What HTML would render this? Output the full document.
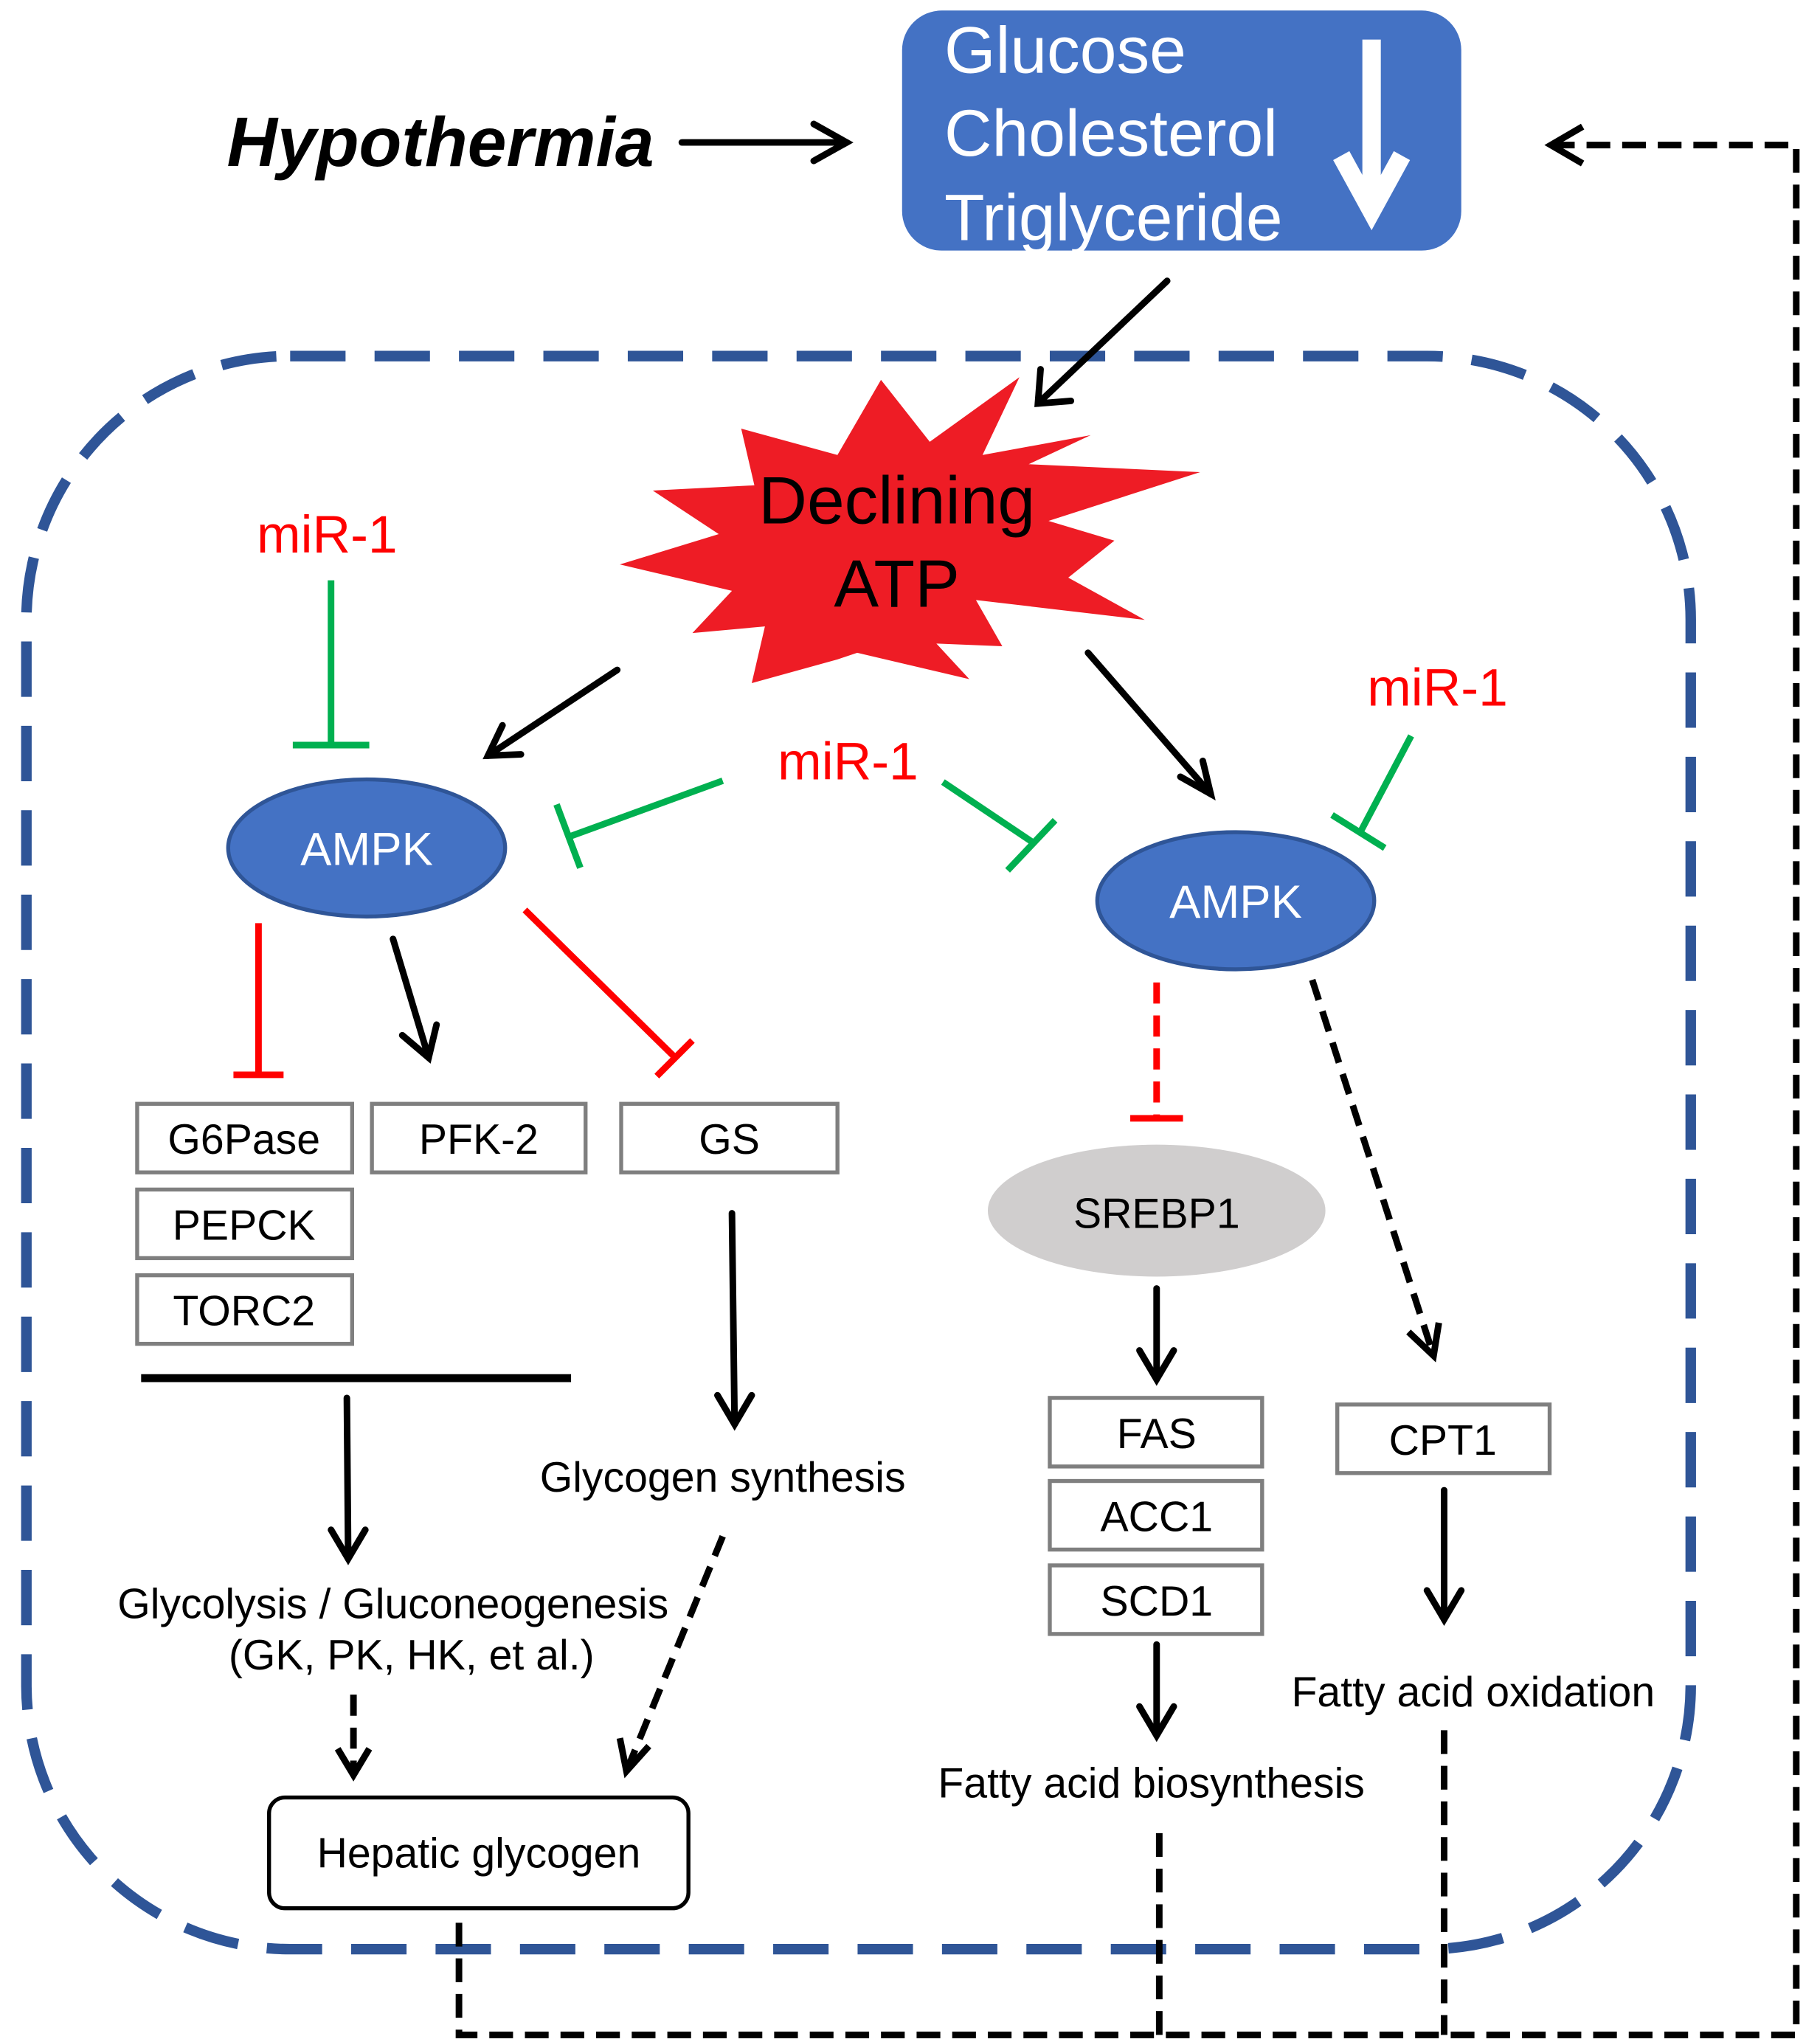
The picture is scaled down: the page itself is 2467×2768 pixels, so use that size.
<!DOCTYPE html>
<html><head><meta charset="utf-8"><style>
html,body{margin:0;padding:0;background:#fff;}
svg{display:block;}
text{font-family:"Liberation Sans",Arial,sans-serif;}
</style></head><body>
<svg width="2467" height="2768" viewBox="0 0 1380 1548.4" xmlns="http://www.w3.org/2000/svg">
<rect width="1380" height="1549" fill="#fff"/>
<rect x="20" y="270" width="1262" height="1208" rx="200" fill="none" stroke="#2F5597" stroke-width="8" stroke-dasharray="42 22"/>
<text x="172" y="126" font-size="53" font-weight="bold" font-style="italic">Hypothermia</text>
<g stroke="#000" stroke-width="5" fill="none" stroke-linecap="round">
<line x1="517" y1="108" x2="642" y2="108"/><polyline points="617,94 642,108 617,122"/>
<line x1="885" y1="213" x2="787" y2="306"/><polyline points="789,280 787,306 812,304"/>
<line x1="468" y1="508" x2="370" y2="573"/><polyline points="381,550 370,573 395,572"/>
<line x1="825" y1="495" x2="918" y2="602"/><polyline points="895,589 918,602 912,577"/>
<line x1="298" y1="712" x2="325" y2="802"/><polyline points="305,785 325,802 331,777"/>
<line x1="263" y1="1060" x2="264" y2="1182"/><polyline points="251,1160 264,1182 277,1160"/>
<line x1="555" y1="920" x2="557" y2="1080"/><polyline points="544,1058 557,1080 570,1058"/>
<line x1="877" y1="977" x2="877" y2="1046"/><polyline points="864,1024 877,1046 890,1024"/>
<line x1="877" y1="1247" x2="877" y2="1316"/><polyline points="864,1294 877,1316 890,1294"/>
<line x1="1095" y1="1130" x2="1095" y2="1228"/><polyline points="1082,1206 1095,1228 1108,1206"/>
</g>
<line x1="107" y1="1045" x2="433" y2="1045" stroke="#000" stroke-width="6"/>
<rect x="684" y="8" width="424" height="182" rx="30" fill="#4472C4"/>
<g fill="#fff" font-size="50"><text x="716" y="55">Glucose</text><text x="716" y="118">Cholesterol</text><text x="716" y="182">Triglyceride</text></g>
<line x1="1040" y1="30" x2="1040" y2="150" stroke="#fff" stroke-width="14"/>
<polyline points="1017,118 1040,160 1063,118" stroke="#fff" stroke-width="14" fill="none"/>
<polygon fill="#EE1C25" points="562,325 635,345 668,288 705,335 773,286 745,345 827,330 780,352 910,358 795,395 845,410 810,438 868,470 740,455 760,490 710,488 735,515 650,495 635,500 570,518 580,475 525,480 555,448 470,428 545,405 495,372 572,368"/>
<text x="680" y="397" font-size="51" text-anchor="middle">Declining</text>
<text x="680" y="460" font-size="51" text-anchor="middle">ATP</text>
<g fill="#FF0000" font-size="40" text-anchor="middle">
<text x="248" y="419">miR-1</text><text x="643" y="591">miR-1</text><text x="1090" y="535">miR-1</text></g>
<g stroke="#00B050" stroke-width="5" fill="none">
<line x1="251" y1="440" x2="251" y2="565"/><line x1="222" y1="565" x2="280" y2="565"/>
<line x1="548" y1="592" x2="430" y2="635"/><line x1="422" y1="610" x2="440" y2="658"/>
<line x1="715" y1="593" x2="785" y2="640"/><line x1="764" y1="660" x2="800" y2="622"/>
<line x1="1070" y1="558" x2="1032" y2="630"/><line x1="1010" y1="618" x2="1050" y2="643"/>
</g>
<ellipse cx="278" cy="643" rx="105" ry="52" fill="#4472C4" stroke="#2F5597" stroke-width="3"/>
<ellipse cx="937" cy="683" rx="105" ry="52" fill="#4472C4" stroke="#2F5597" stroke-width="3"/>
<text x="278" y="656" fill="#fff" font-size="35.5" text-anchor="middle">AMPK</text>
<text x="937" y="696" fill="#fff" font-size="35.5" text-anchor="middle">AMPK</text>
<g stroke="#FF0000" stroke-width="5" fill="none">
<line x1="196" y1="700" x2="196" y2="815"/><line x1="177" y1="815" x2="215" y2="815"/>
<line x1="398" y1="690" x2="512" y2="802"/><line x1="498" y1="816" x2="525" y2="789"/>
<line x1="877" y1="745" x2="877" y2="848" stroke-dasharray="16 9"/><line x1="857" y1="848" x2="897" y2="848"/>
</g>
<g fill="#fff" stroke="#7F7F7F" stroke-width="3">
<rect x="104" y="837" width="163" height="52"/><rect x="282" y="837" width="162" height="52"/><rect x="471" y="837" width="164" height="52"/>
<rect x="104" y="902" width="163" height="52"/><rect x="104" y="967" width="163" height="52"/>
<rect x="796" y="1060" width="161" height="52"/><rect x="796" y="1123" width="161" height="52"/><rect x="796" y="1187" width="161" height="52"/>
<rect x="1014" y="1065" width="161" height="52"/>
</g>
<ellipse cx="877" cy="918" rx="128" ry="50" fill="#D0CECE"/>
<rect x="204" y="1363" width="318" height="84" rx="12" fill="#fff" stroke="#000" stroke-width="3"/>
<g font-size="32" text-anchor="middle">
<text x="185" y="875">G6Pase</text><text x="363" y="875">PFK-2</text><text x="553" y="875">GS</text>
<text x="185" y="940">PEPCK</text><text x="185" y="1005">TORC2</text>
<text x="877" y="1098">FAS</text><text x="877" y="1161">ACC1</text><text x="877" y="1225">SCD1</text>
<text x="1094" y="1103">CPT1</text>
<text x="548" y="1131">Glycogen synthesis</text>
<text x="298" y="1227">Glycolysis / Gluconeogenesis</text>
<text x="312" y="1266">(GK, PK, HK, et al.)</text>
<text x="873" y="1363">Fatty acid biosynthesis</text>
<text x="1117" y="1294">Fatty acid oxidation</text>
<text x="363" y="1416">Hepatic glycogen</text>
<text x="877" y="931">SREBP1</text>
</g>
<g stroke="#000" stroke-width="5" fill="none">
<line x1="268" y1="1285" x2="268" y2="1346" stroke-dasharray="16 9"/><polyline points="256,1326 268,1346 280,1326"/>
<line x1="548" y1="1165" x2="475" y2="1343" stroke-dasharray="16 9"/><polyline points="470,1318 475,1343 492,1324"/>
<line x1="995" y1="743" x2="1087" y2="1028" stroke-dasharray="16 9"/><polyline points="1068,1010 1087,1028 1091,1003"/>
<polyline points="348,1458 348,1543 1362,1543 1362,110 1178,110" stroke-dasharray="18 9"/>
<polyline points="1200,96 1176,110 1200,124"/>
<line x1="879" y1="1390" x2="879" y2="1543" stroke-dasharray="18 9"/>
<line x1="1095" y1="1312" x2="1095" y2="1543" stroke-dasharray="18 9"/>
</g>
</svg>
</body></html>
